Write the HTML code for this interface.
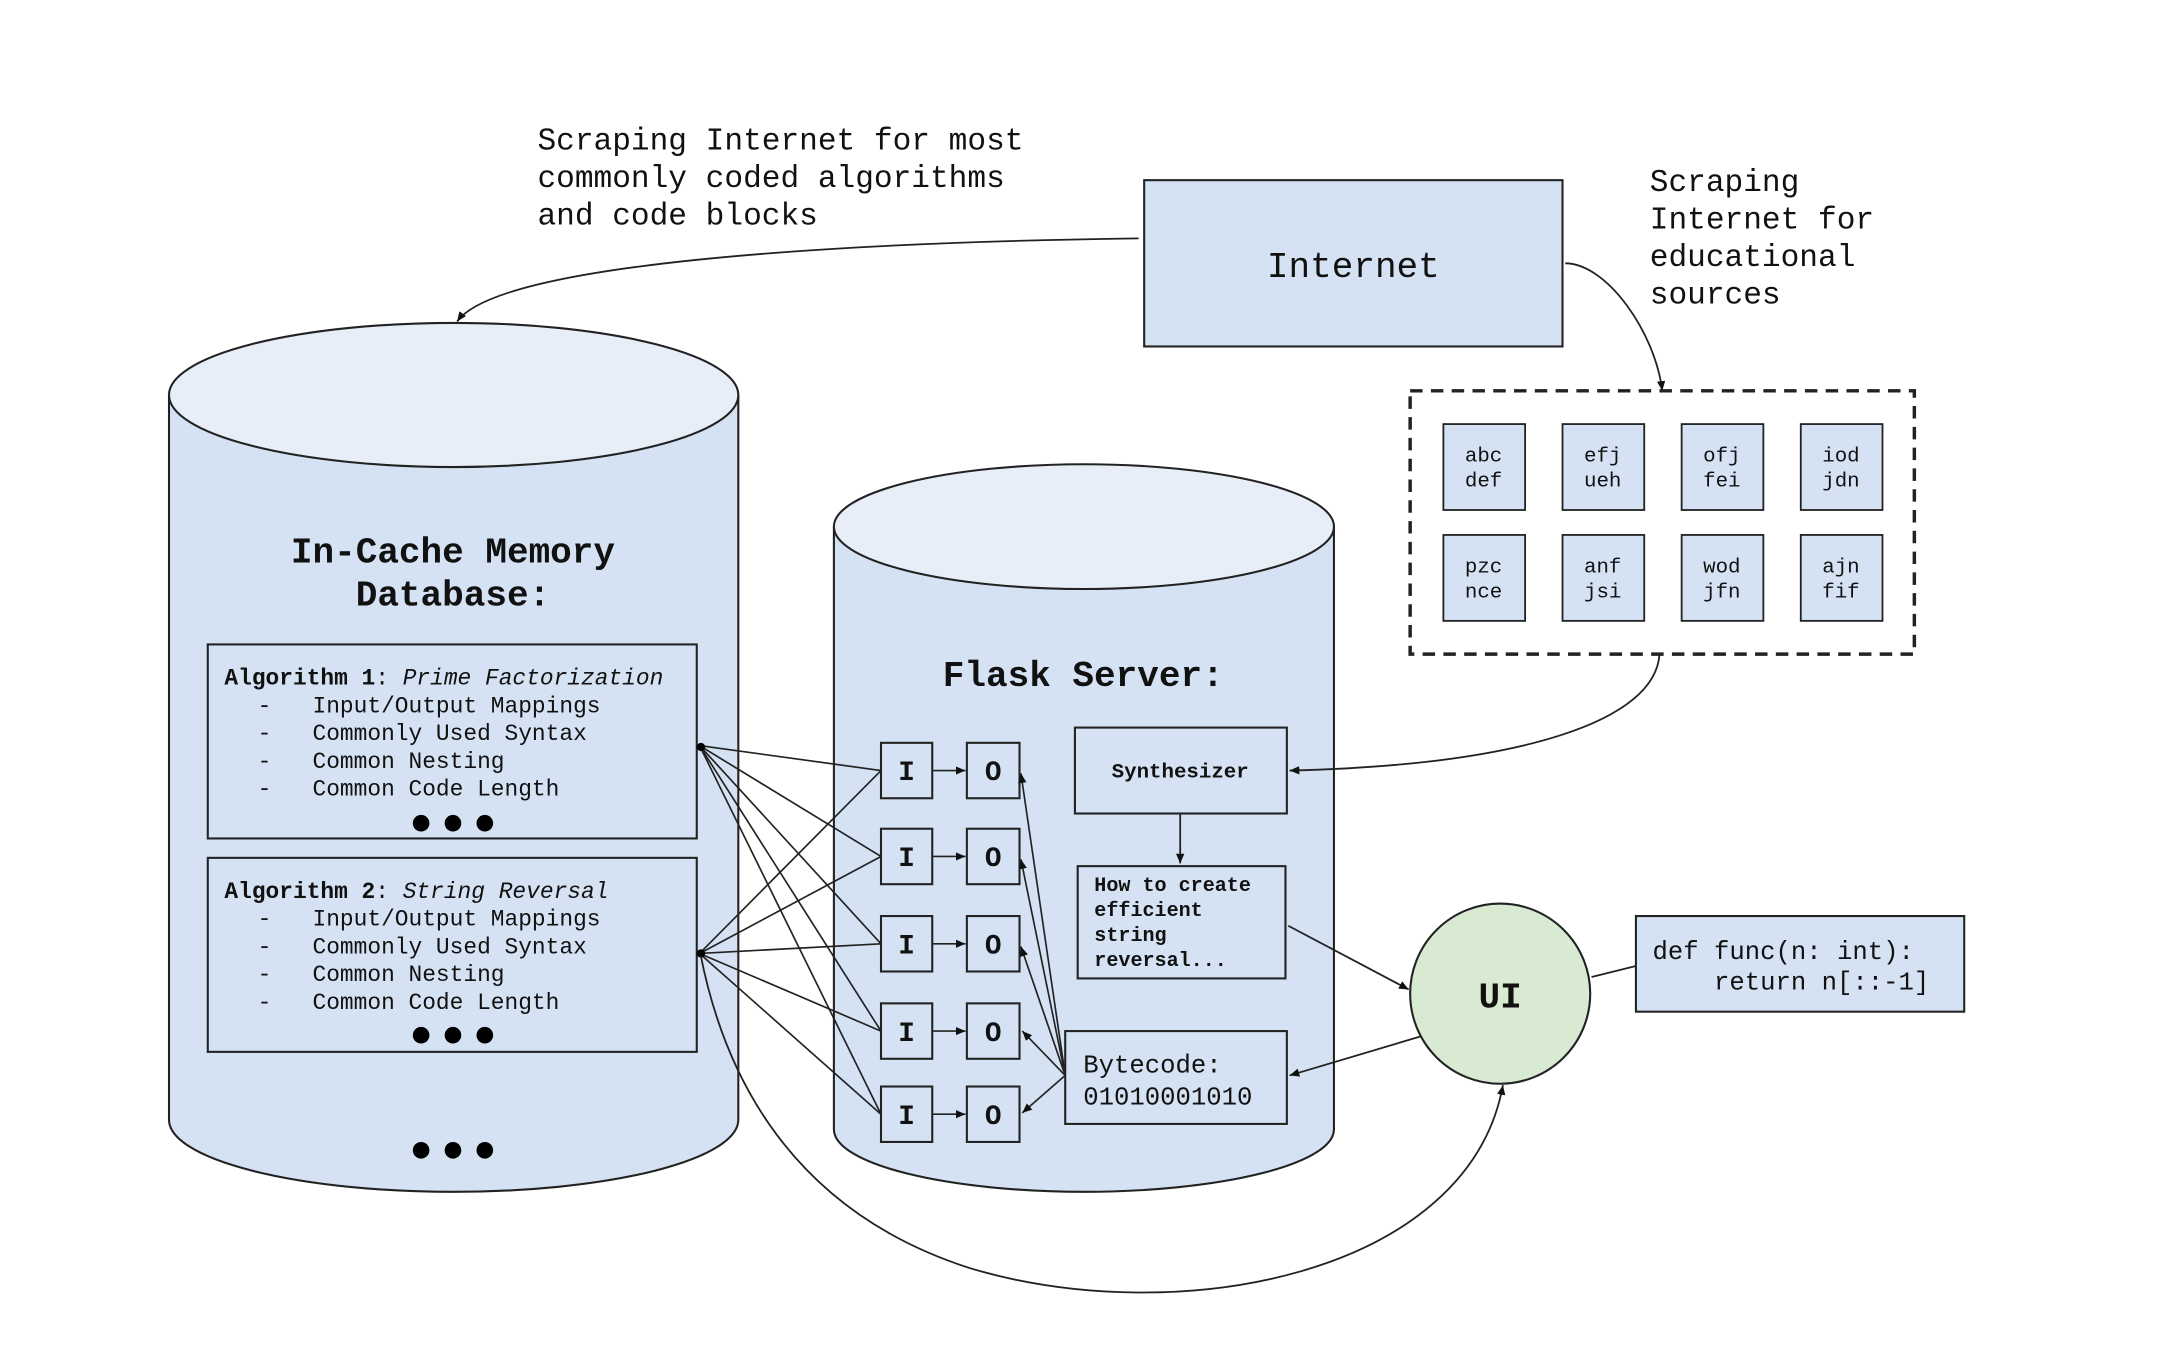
<!DOCTYPE html>
<html><head><meta charset="utf-8"><style>
html,body{margin:0;padding:0;background:#fff;}
svg{display:block;}
text{font-family:"Liberation Mono",monospace;fill:#111;white-space:pre;}
</style></head><body>
<svg width="2172" height="1372" viewBox="0 0 1568 990" preserveAspectRatio="none" xmlns="http://www.w3.org/2000/svg" xml:space="preserve">
<defs>
<marker id="a" markerWidth="8" markerHeight="8" refX="7" refY="4" orient="auto" markerUnits="userSpaceOnUse"><path d="M0,1 L7,4 L0,7 z" fill="#111"/></marker>
</defs>
<rect width="1568" height="990" fill="#fff"/>
<g font-size="22.5">
<text x="388" y="108">Scraping Internet for most</text>
<text x="388" y="135">commonly coded algorithms</text>
<text x="388" y="162">and code blocks</text>
<text x="1191" y="138">Scraping</text>
<text x="1191" y="165">Internet for</text>
<text x="1191" y="192">educational</text>
<text x="1191" y="219">sources</text>
</g>
<rect x="826" y="130" width="302" height="120" fill="#d5e2f3" stroke="#222" stroke-width="1.5"/>
<text x="977" y="200" font-size="26" text-anchor="middle">Internet</text>
<path d="M822,172 C600,175 360,190 330,232" fill="none" stroke="#222" stroke-width="1.3" marker-end="url(#a)"/>
<path d="M1130,190 C1160,190 1195,240 1200,282" fill="none" stroke="#222" stroke-width="1.3" marker-end="url(#a)"/>
<rect x="1018" y="282" width="364" height="190" fill="none" stroke="#222" stroke-width="2.5" stroke-dasharray="9,6"/>
<g font-size="15" text-anchor="middle">
<g fill="#d5e2f3" stroke="#222" stroke-width="1.3">
<rect x="1042" y="306" width="59" height="62"/><rect x="1128" y="306" width="59" height="62"/><rect x="1214" y="306" width="59" height="62"/><rect x="1300" y="306" width="59" height="62"/>
<rect x="1042" y="386" width="59" height="62"/><rect x="1128" y="386" width="59" height="62"/><rect x="1214" y="386" width="59" height="62"/><rect x="1300" y="386" width="59" height="62"/>
</g>
<text x="1071" y="333">abc</text><text x="1071" y="351">def</text>
<text x="1157" y="333">efj</text><text x="1157" y="351">ueh</text>
<text x="1243" y="333">ofj</text><text x="1243" y="351">fei</text>
<text x="1329" y="333">iod</text><text x="1329" y="351">jdn</text>
<text x="1071" y="413">pzc</text><text x="1071" y="431">nce</text>
<text x="1157" y="413">anf</text><text x="1157" y="431">jsi</text>
<text x="1243" y="413">wod</text><text x="1243" y="431">jfn</text>
<text x="1329" y="413">ajn</text><text x="1329" y="431">fif</text>
</g>
<path d="M122,285 L122,808 A205.5,52 0 0 0 533,808 L533,285" fill="#d5e2f3" stroke="#222" stroke-width="1.5"/>
<ellipse cx="327.5" cy="285" rx="205.5" ry="52" fill="#e8eef8" stroke="#222" stroke-width="1.5"/>
<g font-size="26" font-weight="bold" text-anchor="middle">
<text x="327" y="406">In-Cache Memory</text>
<text x="327" y="437">Database:</text>
</g>
<rect x="150" y="465" width="353" height="140" fill="#d5e2f3" stroke="#222" stroke-width="1.5"/>
<rect x="150" y="619" width="353" height="140" fill="#d5e2f3" stroke="#222" stroke-width="1.5"/>
<g font-size="16.5">
<text x="162" y="494"><tspan font-weight="bold">Algorithm 1</tspan>: <tspan font-style="italic">Prime Factorization</tspan></text>
<text x="186" y="514">-   Input/Output Mappings</text>
<text x="186" y="534">-   Commonly Used Syntax</text>
<text x="186" y="554">-   Common Nesting</text>
<text x="186" y="574">-   Common Code Length</text>
<text x="162" y="648"><tspan font-weight="bold">Algorithm 2</tspan>: <tspan font-style="italic">String Reversal</tspan></text>
<text x="186" y="668">-   Input/Output Mappings</text>
<text x="186" y="688">-   Commonly Used Syntax</text>
<text x="186" y="708">-   Common Nesting</text>
<text x="186" y="728">-   Common Code Length</text>
</g>
<g fill="#000">
<circle cx="304" cy="594" r="6"/><circle cx="327" cy="594" r="6"/><circle cx="350" cy="594" r="6"/>
<circle cx="304" cy="747" r="6"/><circle cx="327" cy="747" r="6"/><circle cx="350" cy="747" r="6"/>
<circle cx="304" cy="830" r="6"/><circle cx="327" cy="830" r="6"/><circle cx="350" cy="830" r="6"/>
</g>
<path d="M602,380 L602,815 A180.5,45 0 0 0 963,815 L963,380" fill="#d5e2f3" stroke="#222" stroke-width="1.5"/>
<ellipse cx="782.5" cy="380" rx="180.5" ry="45" fill="#e8eef8" stroke="#222" stroke-width="1.5"/>
<text x="782" y="495" font-size="26" font-weight="bold" text-anchor="middle">Flask Server:</text>
<g fill="#d5e2f3" stroke="#222" stroke-width="1.5">
<rect x="636" y="536" width="37" height="40"/><rect x="698" y="536" width="38" height="40"/>
<rect x="636" y="598" width="37" height="40"/><rect x="698" y="598" width="38" height="40"/>
<rect x="636" y="661" width="37" height="40"/><rect x="698" y="661" width="38" height="40"/>
<rect x="636" y="724" width="37" height="40"/><rect x="698" y="724" width="38" height="40"/>
<rect x="636" y="784" width="37" height="40"/><rect x="698" y="784" width="38" height="40"/>
</g>
<g font-size="20" font-weight="bold" text-anchor="middle">
<text x="654.5" y="563">I</text><text x="717" y="563">O</text>
<text x="654.5" y="625">I</text><text x="717" y="625">O</text>
<text x="654.5" y="688">I</text><text x="717" y="688">O</text>
<text x="654.5" y="751">I</text><text x="717" y="751">O</text>
<text x="654.5" y="811">I</text><text x="717" y="811">O</text>
</g>
<g stroke="#222" stroke-width="1.2" fill="none" marker-end="url(#a)">
<line x1="673" y1="556" x2="697" y2="556"/><line x1="673" y1="618" x2="697" y2="618"/>
<line x1="673" y1="681" x2="697" y2="681"/><line x1="673" y1="744" x2="697" y2="744"/>
<line x1="673" y1="804" x2="697" y2="804"/>
<line x1="769" y1="776" x2="737" y2="558"/><line x1="769" y1="776" x2="737" y2="620"/>
<line x1="769" y1="776" x2="737" y2="683"/><line x1="769" y1="776" x2="738" y2="744"/>
<line x1="769" y1="776" x2="738" y2="803"/>
</g>
<g stroke="#222" stroke-width="1.2">
<line x1="505" y1="538" x2="636" y2="556"/><line x1="505" y1="538" x2="636" y2="618"/>
<line x1="505" y1="538" x2="636" y2="681"/><line x1="505" y1="538" x2="636" y2="744"/>
<line x1="505" y1="538" x2="636" y2="804"/>
<line x1="505" y1="688" x2="636" y2="556"/><line x1="505" y1="688" x2="636" y2="618"/>
<line x1="505" y1="688" x2="636" y2="681"/><line x1="505" y1="688" x2="636" y2="744"/>
<line x1="505" y1="688" x2="636" y2="804"/>
</g>
<circle cx="506" cy="539" r="3" fill="#000"/><circle cx="506" cy="688" r="3" fill="#000"/>
<rect x="776" y="525" width="153" height="62" fill="#d5e2f3" stroke="#222" stroke-width="1.5"/>
<text x="852" y="561" font-size="15" font-weight="bold" text-anchor="middle">Synthesizer</text>
<rect x="778" y="625" width="150" height="81" fill="#d5e2f3" stroke="#222" stroke-width="1.5"/>
<g font-size="14.5" font-weight="bold">
<text x="790" y="643">How to create</text>
<text x="790" y="661">efficient</text>
<text x="790" y="679">string</text>
<text x="790" y="697">reversal...</text>
</g>
<rect x="769" y="744" width="160" height="67" fill="#d5e2f3" stroke="#222" stroke-width="1.5"/>
<g font-size="18.5"><text x="782" y="774">Bytecode:</text><text x="782" y="797">01010001010</text></g>
<g stroke="#222" stroke-width="1.3" fill="none" marker-end="url(#a)">
<line x1="852" y1="587" x2="852" y2="623"/>
<path d="M1198,472 C1195,520 1100,552 931,556"/>
<line x1="930" y1="668" x2="1017" y2="714"/>
<line x1="1025" y1="748" x2="931" y2="776"/>
<path d="M506,690 C520,760 560,870 700,915 C850,960 1060,920 1085,783"/>
</g>
<circle cx="1083" cy="717" r="65" fill="#d9ead3" stroke="#222" stroke-width="1.5"/>
<text x="1083" y="727" font-size="26" font-weight="bold" text-anchor="middle">UI</text>
<line x1="1149" y1="705" x2="1181" y2="697" stroke="#222" stroke-width="1.3"/>
<rect x="1181" y="661" width="237" height="69" fill="#d5e2f3" stroke="#222" stroke-width="1.5"/>
<g font-size="18.5"><text x="1193" y="692">def func(n: int):</text><text x="1193" y="714">    return n[::-1]</text></g>
</svg>
</body></html>
